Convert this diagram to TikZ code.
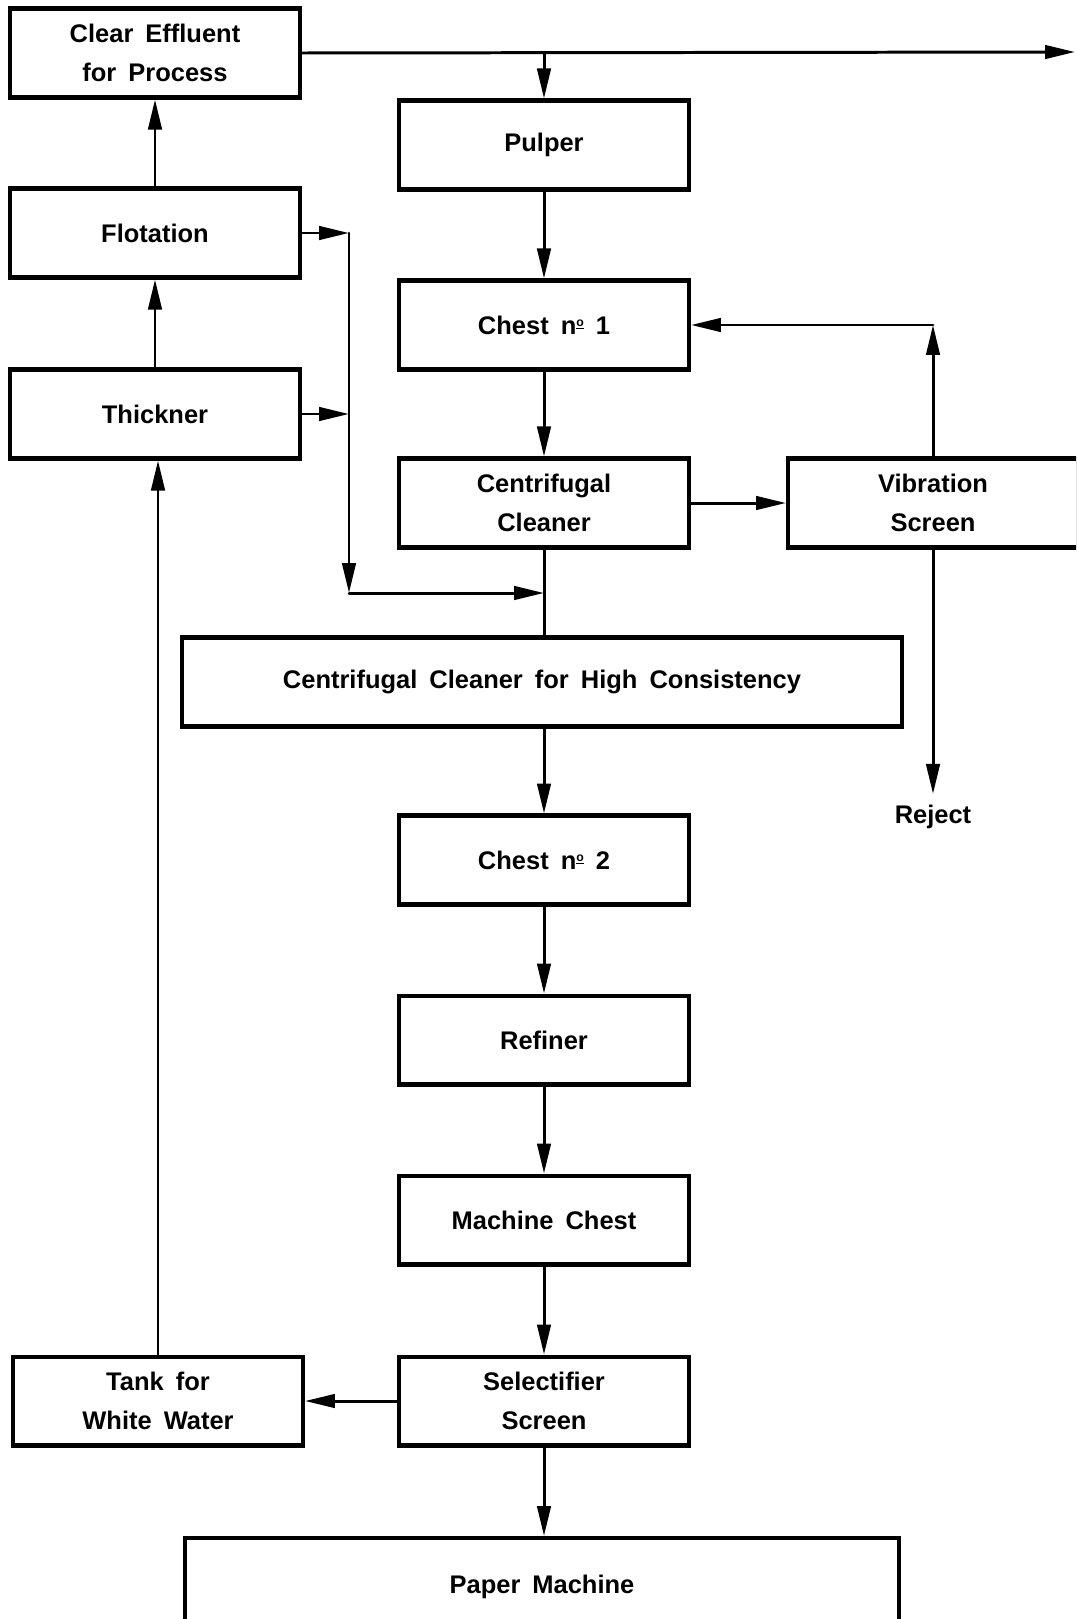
\documentclass[tikz,border=0pt]{standalone}
\usepackage{fontspec}
\setmainfont[WordSpace=1.7]{Liberation Sans}
\usetikzlibrary{arrows.meta,positioning}
\newcommand{\nro}{n\raisebox{0.6ex}{\scriptsize\underline{o}}}

\begin{document}
\begin{tikzpicture}[x=0.02cm,y=-0.02cm,line cap=round,
 >={Triangle[length=0.6cm,width=0.27cm]},
 unit/.style={draw,line width=2.3pt,minimum width=5.8cm,minimum height=1.78cm,
  align=center,font=\fontsize{14.5}{22}\selectfont\bfseries},
 flow/.style={line width=1.7pt}]
\clip (0,0) rectangle (1076,1619);
\node[unit] (effluent) at (155,53) {Clear Effluent\\for Process};
\node[unit] (flotation) at (155,233) {Flotation};
\node[unit] (thickner) at (155,414) {Thickner};
\node[unit] (tank) at (158,1401) {Tank for\\White Water};
\node[unit] (pulper) at (544,145) {Pulper};
\node[unit] (chest1) at (544,325) {Chest \nro\ 1};
\node[unit] (cleaner) at (544,503) {Centrifugal\\Cleaner};
\node[unit] (vibration) at (933,503) {Vibration\\Screen};
\node[unit,minimum width=14.4cm] (highcons) at (542,682)
 {Centrifugal Cleaner for High Consistency};
\node[unit] (chest2) at (544,860) {Chest \nro\ 2};
\node[unit] (refiner) at (544,1040) {Refiner};
\node[unit] (machchest) at (544,1220) {Machine Chest};
\node[unit] (selectifier) at (544,1401) {Selectifier\\Screen};
\node[unit,minimum width=14.3cm,minimum height=1.96cm] (paper) at (542,1587) {Paper Machine};
\node[font=\fontsize{14.5}{22}\selectfont\bfseries] (reject) at (933,817) {Reject};
\coordinate (outlet) at (1075,52);
\coordinate (bus) at (349,593);
\coordinate (return) at (vibration.north |- chest1.east);
\draw[flow,->] (effluent.east) -- (outlet);
\draw[flow,->] (effluent.east -| pulper.north) -- (pulper.north);
\draw[flow,->] (flotation.north) -- (effluent.south);
\draw[flow,->] (thickner.north) -- (flotation.south);
\draw[flow,->] (tank.north) -- (tank.north |- thickner.south);
\draw[flow,->] (flotation.east) -- (flotation.east -| bus);
\draw[flow,->] (thickner.east) -- (thickner.east -| bus);
\draw[flow,->] (flotation.east -| bus) -- (bus);
\draw[flow,->] (bus) -- (bus -| cleaner.south);
\draw[flow,->] (pulper.south) -- (chest1.north);
\draw[flow,->] (chest1.south) -- (cleaner.north);
\draw[flow] (cleaner.south) -- (cleaner.south |- highcons.north);
\draw[flow,->] (cleaner.east) -- (vibration.west);
\draw[flow,->] (vibration.north) -- (return);
\draw[flow,->] (return) -- (chest1.east);
\draw[flow,->,shorten >=0.1cm] (vibration.south) -- (reject.north);
\draw[flow,->] (highcons.south -| chest2.north) -- (chest2.north);
\draw[flow,->] (chest2.south) -- (refiner.north);
\draw[flow,->] (refiner.south) -- (machchest.north);
\draw[flow,->] (machchest.south) -- (selectifier.north);
\draw[flow,->] (selectifier.west) -- (selectifier.west -| tank.east);
\draw[flow,->] (selectifier.south) -- (selectifier.south |- paper.north);
\end{tikzpicture}
\end{document}
